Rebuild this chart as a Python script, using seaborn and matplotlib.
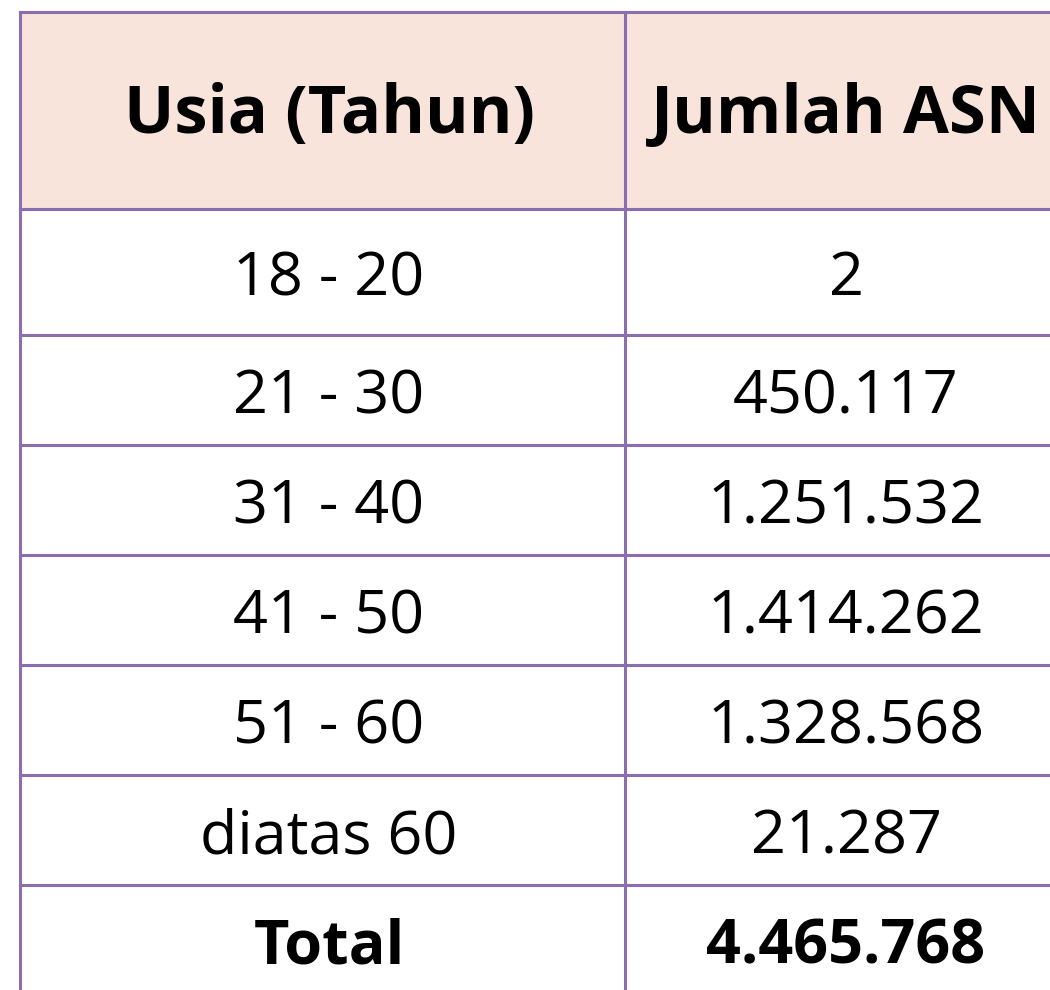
import matplotlib.pyplot as plt
import seaborn as sns

# table content
HEADERS = ['Usia (Tahun)', 'Jumlah ASN']
USIA = ['18 - 20', '21 - 30', '31 - 40', '41 - 50', '51 - 60', 'diatas 60']
JUMLAH_ASN = [2, 450117, 1251532, 1414262, 1328568, 21287]
TOTAL_LABEL = 'Total'

# layout (pixel coordinates of the 1050x990 canvas)
ROW_EDGES = [12, 209, 335, 445, 555, 665, 775, 885, 995]
COL_EDGES = [20, 625, 1062]
TEXT_X = [329, 846]
LINE_COLOR = '#8B6DB1'
HEADER_COLOR = '#F8E4DA'
FONT = ['Open Sans', 'DejaVu Sans']


def fmt_id(n):
    # Indonesian thousands separator
    return f'{n:,}'.replace(',', '.')


def main():
    sns.set_theme(style='white')
    plt.rcParams['font.family'] = FONT

    fig = plt.figure(figsize=(10.5, 9.9), dpi=100)
    ax = fig.add_axes([0, 0, 1, 1])
    ax.set_xlim(0, 1050)
    ax.set_ylim(990, 0)
    ax.axis('off')

    # header background
    ax.fill_between(COL_EDGES[::len(COL_EDGES) - 1], ROW_EDGES[0], ROW_EDGES[1], color=HEADER_COLOR, lw=0, zorder=0)

    # grid lines
    for y in ROW_EDGES:
        ax.plot([COL_EDGES[0], COL_EDGES[-1]], [y, y], color=LINE_COLOR, lw=2.2, solid_capstyle='projecting', zorder=2)
    for x in COL_EDGES:
        ax.plot([x, x], [ROW_EDGES[0], ROW_EDGES[-1]], color=LINE_COLOR, lw=2.2, solid_capstyle='projecting', zorder=2)

    centers = [(a + b) / 2 for a, b in zip(ROW_EDGES[:-1], ROW_EDGES[1:])]

    for x, label in zip(TEXT_X, HEADERS):
        ax.text(x, centers[0] - 3, label, ha='center', va='center_baseline', fontsize=48, fontweight='bold', color='black')

    for i, (usia, jumlah) in enumerate(zip(USIA, JUMLAH_ASN)):
        y = centers[i + 1]
        ax.text(TEXT_X[0], y, usia, ha='center', va='center_baseline', fontsize=44, color='black')
        ax.text(TEXT_X[1], y, fmt_id(jumlah), ha='center', va='center_baseline', fontsize=44, color='black')

    ax.text(TEXT_X[0], centers[-1], TOTAL_LABEL, ha='center', va='center_baseline', fontsize=44, fontweight='bold', color='black')
    ax.text(TEXT_X[1], centers[-1], fmt_id(sum(JUMLAH_ASN)), ha='center', va='center_baseline', fontsize=44, fontweight='bold', color='black')

    fig.savefig('out.png', dpi=100, facecolor='white')


if __name__ == '__main__':
    main()
